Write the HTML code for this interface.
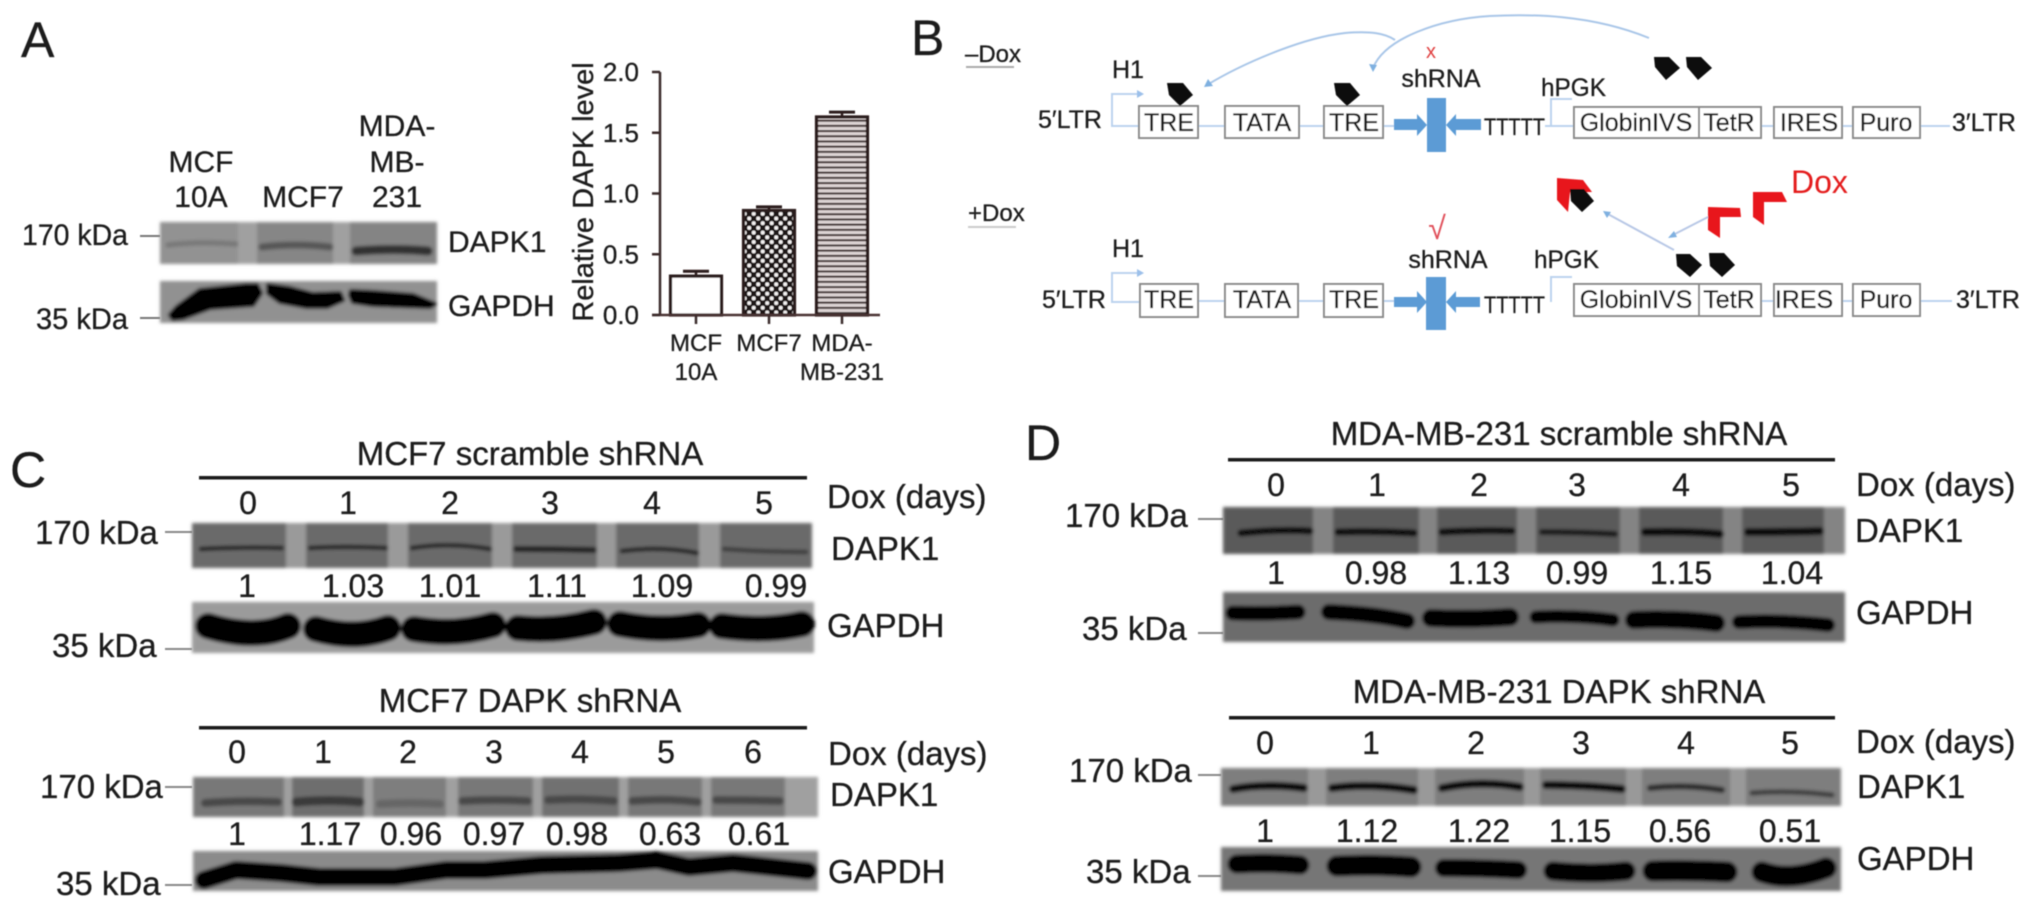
<!DOCTYPE html>
<html lang="en">
<head>
<meta charset="utf-8">
<title>DAPK1 expression and inducible knockdown figure</title>
<style>
html,body{margin:0;padding:0;background:#fff;width:2033px;height:913px;overflow:hidden}
svg{display:block}
text{font-family:"Liberation Sans",sans-serif;fill:#1c1c1c;stroke:#1c1c1c;stroke-width:.3}
.p{font-size:50px}
.l{font-size:33px}
.n{font-size:32px}
.b{font-size:25px}
.lane{stroke-linecap:round;stroke-linejoin:round;fill:none}
</style>
</head>
<body>
<svg id="figure" xmlns="http://www.w3.org/2000/svg" width="2033" height="913" viewBox="0 0 2033 913">
<defs>
<filter id="blur" filterUnits="userSpaceOnUse" x="0" y="0" width="2033" height="913"><feGaussianBlur stdDeviation="1.5"/></filter>
<filter id="soft" filterUnits="userSpaceOnUse" x="0" y="0" width="2033" height="913"><feGaussianBlur stdDeviation="0.5"/></filter>
<pattern id="checker" width="9" height="9.4" patternUnits="userSpaceOnUse">
<rect width="9" height="9.4" fill="#1e1414"/>
<circle cx="2.2" cy="2.3" r="2" fill="#f2f0f0"/>
<circle cx="6.7" cy="7" r="2" fill="#f2f0f0"/>
</pattern>
<pattern id="stripes" width="9" height="5.2" patternUnits="userSpaceOnUse">
<rect width="9" height="5.2" fill="#ddd4d4"/>
<rect y="0" width="9" height="2.1" fill="#4a3c3c"/>
</pattern>
</defs>

<g filter="url(#soft)">

<!-- Panel A -->
<g>
<text class="p" x="21" y="57">A</text>
<g font-size="30" text-anchor="middle">
<text x="201" y="172" font-size="30">MCF</text>
<text x="201" y="207" font-size="30">10A</text>
<text x="303" y="207" font-size="30">MCF7</text>
<text x="397" y="136" font-size="30">MDA-</text>
<text x="397" y="172" font-size="30">MB-</text>
<text x="397" y="207" font-size="30">231</text>
</g>
<text x="22" y="245" font-size="30" textLength="106" lengthAdjust="spacingAndGlyphs">170 kDa</text>
<line x1="140" y1="236" x2="160" y2="236" stroke="#777" stroke-width="2"/>
<text x="36" y="329" font-size="30" textLength="92" lengthAdjust="spacingAndGlyphs">35 kDa</text>
<line x1="140" y1="318" x2="160" y2="318" stroke="#777" stroke-width="2"/>
<text x="448" y="252" font-size="30">DAPK1</text>
<text x="448" y="316" font-size="30">GAPDH</text>
<g filter="url(#blur)">
<rect x="160" y="222" width="277" height="42" fill="#a0a0a0"/>
<rect x="160" y="222" width="78" height="42" fill="#929292"/>
<rect x="257" y="222" width="76" height="42" fill="#868686"/>
<rect x="350" y="222" width="87" height="42" fill="#848484"/>
<path class="lane" d="M168 245 Q200 241 236 244" stroke="#777" stroke-width="5"/>
<path class="lane" d="M262 247 Q295 243 330 247" stroke="#565656" stroke-width="7"/>
<path class="lane" d="M356 251 Q395 248 428 251" stroke="#303030" stroke-width="9"/>
</g>
<g filter="url(#blur)">
<rect x="160" y="281" width="277" height="42" fill="#919191"/>
<g stroke="#050505" stroke-width="4" stroke-linejoin="round" fill="#050505">
<polygon points="170,315 177,307 200,290 247,285 257,285 261,293 253,305 210,308 183,318 173,319"/>
<polygon points="268,285 290,288 313,294 340,293 343,300 327,307 307,307 280,302 268,293"/>
<polygon points="351,291 373,292 413,295 435,304 430,307 373,305 353,302 350,295"/>
</g>
</g>
<text transform="translate(593 192) rotate(-90)" text-anchor="middle" font-size="29">Relative DAPK level</text>
<g id="bar-chart"></g>
</g>

<!-- Panel B -->
<g>
<text class="p" x="911" y="55">B</text>
<text x="965" y="62" font-size="24">–Dox</text>
<line x1="966" y1="67" x2="1014" y2="67" stroke="#aaa" stroke-width="2"/>
<text x="968" y="221" font-size="24">+Dox</text>
<line x1="968" y1="227" x2="1016" y2="227" stroke="#ccc" stroke-width="2"/>

<g fill="none" stroke="#a9c6e8" stroke-width="2">
<path d="M1649 38 C1590 14 1530 14 1490 16 C1440 19 1385 38 1373 68"/>
<path d="M1395 40 C1385 33 1370 31 1345 33 C1300 38 1240 65 1207 85"/>
</g>
<polygon points="1373,72 1369,64 1377,65" fill="#7fb0e0"/>
<polygon points="1204,87 1208,79 1213,86" fill="#7fb0e0"/>

<!-- upper construct -->
<g>
<text x="1038" y="128" class="b">5′LTR</text>
<text x="1112" y="78" class="b">H1</text>
<path d="M1141 94 H1112 V126 H1139 M1198 126 H1225 M1299 126 H1324 M1383 126 H1394 M1545 126 H1574 M1551 126 V99 H1572 M1761 126 H1774 M1842 126 H1853 M1920 126 H1950" fill="none" stroke="#bcd3ee" stroke-width="2"/>
<polygon points="1144,94 1137,90 1137,98" fill="#9cc0ea"/>
<g fill="#fff" stroke="#8a8a8a" stroke-width="2">
<rect x="1139" y="106" width="59" height="32"/>
<rect x="1225" y="106" width="74" height="32"/>
<rect x="1324" y="106" width="59" height="32"/>
<rect x="1574" y="107" width="125" height="31"/>
<rect x="1699" y="107" width="62" height="31"/>
<rect x="1774" y="107" width="68" height="31"/>
<rect x="1853" y="107" width="67" height="31"/>
</g>
<g text-anchor="middle">
<text x="1169" y="131" class="b">TRE</text>
<text x="1262" y="131" class="b">TATA</text>
<text x="1354" y="131" class="b">TRE</text>
<text x="1636" y="131" class="b">GlobinIVS</text>
<text x="1729" y="131" class="b">TetR</text>
<text x="1809" y="131" class="b">IRES</text>
<text x="1886" y="131" class="b">Puro</text>
</g>
<text x="1441" y="87" class="b" text-anchor="middle">shRNA</text>
<text x="1431" y="58" font-size="20" style="fill:#e04040;stroke:none" text-anchor="middle">x</text>
<rect x="1427" y="98" width="19" height="54" fill="#5b9bd5"/>
<polygon points="1394,119 1417,119 1417,114 1427,125 1417,136 1417,130 1394,130" fill="#5b9bd5"/>
<polygon points="1481,119 1456,119 1456,114 1446,125 1456,136 1456,130 1481,130" fill="#5b9bd5"/>
<text x="1484" y="135" font-size="24" textLength="61" lengthAdjust="spacingAndGlyphs">TTTTT</text>
<text x="1541" y="96" class="b" textLength="65" lengthAdjust="spacingAndGlyphs">hPGK</text>
<text x="1952" y="131" class="b">3′LTR</text>
</g>
<polygon points="1167,83 1183,83 1193,95 1180,106 1169,95" fill="#0a0a0a"/>
<polygon points="1334,83 1350,83 1360,95 1347,106 1336,95" fill="#0a0a0a"/>
<polygon points="1654,57 1669,57 1680,68 1666,80 1655,67" fill="#0a0a0a"/>
<polygon points="1686,57 1701,57 1712,68 1698,80 1687,67" fill="#0a0a0a"/>

<!-- lower construct -->
<g>
<text x="1042" y="308" class="b">5′LTR</text>
<text x="1112" y="257" class="b">H1</text>
<path d="M1141 273 H1112 V302 H1140 M1198 301 H1225 M1298 301 H1324 M1383 301 H1394 M1551 302 V277 H1572 M1761 301 H1774 M1842 301 H1853 M1920 301 H1952" fill="none" stroke="#bcd3ee" stroke-width="2"/>
<polygon points="1144,273 1137,269 1137,277" fill="#9cc0ea"/>
<g fill="#fff" stroke="#8a8a8a" stroke-width="2">
<rect x="1140" y="284" width="58" height="33"/>
<rect x="1225" y="284" width="73" height="33"/>
<rect x="1324" y="284" width="59" height="33"/>
<rect x="1574" y="284" width="125" height="32"/>
<rect x="1699" y="284" width="62" height="32"/>
<rect x="1774" y="284" width="68" height="32"/>
<rect x="1853" y="284" width="67" height="32"/>
</g>
<g text-anchor="middle">
<text x="1169" y="308" class="b">TRE</text>
<text x="1262" y="308" class="b">TATA</text>
<text x="1354" y="308" class="b">TRE</text>
<text x="1636" y="308" class="b">GlobinIVS</text>
<text x="1729" y="308" class="b">TetR</text>
<text x="1804" y="308" class="b">IRES</text>
<text x="1886" y="308" class="b">Puro</text>
</g>
<text x="1448" y="268" class="b" text-anchor="middle">shRNA</text>
<text x="1437" y="239" font-size="32" style="fill:#e0505a;stroke:none" text-anchor="middle">√</text>
<rect x="1426" y="277" width="20" height="53" fill="#5b9bd5"/>
<polygon points="1394,297 1417,297 1417,291 1427,302 1417,313 1417,307 1394,307" fill="#5b9bd5"/>
<polygon points="1480,297 1456,297 1456,291 1446,302 1456,313 1456,307 1480,307" fill="#5b9bd5"/>
<text x="1484" y="313" font-size="24" textLength="61" lengthAdjust="spacingAndGlyphs">TTTTT</text>
<text x="1534" y="268" class="b" textLength="65" lengthAdjust="spacingAndGlyphs">hPGK</text>
<text x="1956" y="308" class="b">3′LTR</text>
</g>
<line x1="1674" y1="250" x2="1606" y2="213" stroke="#b8c8e6" stroke-width="2"/>
<polygon points="1603,211 1611,212 1607,218" fill="#7fb0e0"/>
<line x1="1708" y1="217" x2="1671" y2="236" stroke="#b8c8e6" stroke-width="2"/>
<polygon points="1668,238 1674,231 1677,237" fill="#7fb0e0"/>
<polygon points="1557,178 1583,180 1592,192 1570,192 1568,212 1557,200" fill="#e8191c"/>
<polygon points="1570,189 1584,189 1594,201 1582,212 1571,201" fill="#0a0a0a"/>
<polygon points="1708,207 1740,208 1741,217 1720,217 1720,238 1708,230" fill="#e8191c"/>
<polygon points="1753,192 1782,192 1787,202 1764,202 1764,225 1753,217" fill="#e8191c"/>
<text x="1791" y="193" font-size="32" style="fill:#e41a1c;stroke:none">Dox</text>
<polygon points="1676,254 1690,254 1702,265 1690,277 1677,266" fill="#0a0a0a"/>
<polygon points="1709,253 1724,253 1735,265 1722,277 1710,266" fill="#0a0a0a"/>
</g>

<!-- Panel C top -->
<g>
<text class="p" x="10" y="487">C</text>
<text x="530" y="465" class="l" text-anchor="middle">MCF7 scramble shRNA</text>
<rect x="199" y="476" width="608" height="3.5" fill="#1a1a1a"/>
<g text-anchor="middle">
<text x="248" y="514" class="n">0</text>
<text x="348" y="514" class="n">1</text>
<text x="450" y="514" class="n">2</text>
<text x="550" y="514" class="n">3</text>
<text x="652" y="514" class="n">4</text>
<text x="764" y="514" class="n">5</text>
</g>
<text x="827" y="508" class="l">Dox (days)</text>
<text x="35" y="544" class="l">170 kDa</text>
<line x1="165" y1="532" x2="192" y2="532" stroke="#888" stroke-width="2"/>
<text x="52" y="657" class="l">35 kDa</text>
<line x1="165" y1="649" x2="192" y2="649" stroke="#888" stroke-width="2"/>
<text x="831" y="560" class="l">DAPK1</text>
<text x="827" y="637" class="l">GAPDH</text>
<g filter="url(#blur)">
<rect x="192" y="523" width="620" height="45" fill="#9a9a9a"/>
<g fill="#6a6a6a">
<rect x="192" y="523" width="94" height="45"/>
<rect x="306" y="523" width="82" height="45"/>
<rect x="408" y="523" width="84" height="45"/>
<rect x="512" y="523" width="85" height="45"/>
<rect x="616" y="523" width="83" height="45"/>
<rect x="720" y="523" width="92" height="45"/>
</g>
<g class="lane" stroke="#222" stroke-width="4.5">
<path d="M201 549 Q240 547 282 548"/>
<path d="M310 548 Q345 546 386 548"/>
<path d="M412 548 Q450 542 490 549"/>
<path d="M516 549 Q555 549 594 550" stroke-width="6"/>
<path d="M622 551 Q660 546 697 553"/>
<path d="M724 549 Q765 552 806 552" stroke="#3c3c3c"/>
</g>
</g>
<g text-anchor="middle">
<text x="247" y="597" class="n">1</text>
<text x="353" y="597" class="n">1.03</text>
<text x="450" y="597" class="n">1.01</text>
<text x="557" y="597" class="n">1.11</text>
<text x="662" y="597" class="n">1.09</text>
<text x="776" y="597" class="n">0.99</text>
</g>
<g filter="url(#blur)">
<rect x="192" y="602" width="622" height="51" fill="#9b9b9b"/>
<g class="lane" stroke="#050505" stroke-width="26">
<path d="M208 626 Q255 640 288 626"/>
<path d="M316 629 Q355 640 388 628"/>
<path d="M414 629 Q455 636 493 625"/>
<path d="M518 628 Q555 632 594 622"/>
<path d="M620 624 Q660 632 698 625"/>
<path d="M722 626 Q765 632 802 624"/>
</g>
</g>

<!-- Panel C bottom -->
<text x="530" y="712" class="l" text-anchor="middle">MCF7 DAPK shRNA</text>
<rect x="199" y="726" width="608" height="3.5" fill="#1a1a1a"/>
<g text-anchor="middle">
<text x="237" y="763" class="n">0</text>
<text x="323" y="763" class="n">1</text>
<text x="408" y="763" class="n">2</text>
<text x="494" y="763" class="n">3</text>
<text x="580" y="763" class="n">4</text>
<text x="666" y="763" class="n">5</text>
<text x="753" y="763" class="n">6</text>
</g>
<text x="828" y="765" class="l">Dox (days)</text>
<text x="40" y="798" class="l">170 kDa</text>
<line x1="165" y1="787" x2="192" y2="787" stroke="#888" stroke-width="2"/>
<text x="56" y="895" class="l">35 kDa</text>
<line x1="165" y1="885" x2="192" y2="885" stroke="#888" stroke-width="2"/>
<text x="830" y="806" class="l">DAPK1</text>
<text x="828" y="883" class="l">GAPDH</text>
<g filter="url(#blur)">
<rect x="193" y="777" width="625" height="40" fill="#a0a0a0"/>
<g fill="#787878">
<rect x="193" y="777" width="91" height="40"/>
<rect x="292" y="777" width="72" height="40" fill="#6e6e6e"/>
<rect x="373" y="777" width="73" height="40" fill="#7e7e7e"/>
<rect x="458" y="777" width="75" height="40"/>
<rect x="542" y="777" width="77" height="40" fill="#717171"/>
<rect x="628" y="777" width="74" height="40"/>
<rect x="711" y="777" width="74" height="40"/>
</g>
<g class="lane" stroke="#4a4a4a" stroke-width="8">
<path d="M205 803 Q240 800 278 802"/>
<path d="M296 802 Q330 799 360 802" stroke="#3a3a3a" stroke-width="9"/>
<path d="M380 804 Q410 802 440 804" stroke="#666"/>
<path d="M462 801 Q495 799 528 801"/>
<path d="M548 800 Q580 798 614 801"/>
<path d="M632 801 Q665 798 698 802"/>
<path d="M716 800 Q748 800 780 801"/>
</g>
</g>
<g text-anchor="middle">
<text x="237" y="845" class="n">1</text>
<text x="330" y="845" class="n">1.17</text>
<text x="411" y="845" class="n">0.96</text>
<text x="494" y="845" class="n">0.97</text>
<text x="577" y="845" class="n">0.98</text>
<text x="670" y="845" class="n">0.63</text>
<text x="759" y="845" class="n">0.61</text>
</g>
<g filter="url(#blur)">
<rect x="193" y="851" width="625" height="40" fill="#8b8b8b"/>
<path class="lane" d="M204 880 L236 870 L281 873 L319 877 L395 877 L446 870 L485 870 L542 865 L619 863 L657 860 L689 867 L733 863 L808 871" stroke="#060606" stroke-width="18"/>
</g>
</g>

<!-- Panel D -->
<g>
<text class="p" x="1025" y="460">D</text>
<text x="1559" y="445" class="l" text-anchor="middle">MDA-MB-231 scramble shRNA</text>
<rect x="1228" y="458" width="607" height="3.5" fill="#1a1a1a"/>
<g text-anchor="middle">
<text x="1276" y="496" class="n">0</text>
<text x="1377" y="496" class="n">1</text>
<text x="1479" y="496" class="n">2</text>
<text x="1577" y="496" class="n">3</text>
<text x="1681" y="496" class="n">4</text>
<text x="1791" y="496" class="n">5</text>
</g>
<text x="1856" y="496" class="l">Dox (days)</text>
<text x="1065" y="527" class="l">170 kDa</text>
<line x1="1198" y1="519" x2="1223" y2="519" stroke="#888" stroke-width="2"/>
<text x="1082" y="640" class="l">35 kDa</text>
<line x1="1198" y1="633" x2="1223" y2="633" stroke="#888" stroke-width="2"/>
<text x="1855" y="542" class="l">DAPK1</text>
<text x="1856" y="624" class="l">GAPDH</text>
<g filter="url(#blur)">
<rect x="1223" y="507" width="622" height="47" fill="#848484"/>
<g fill="#5a5a5a">
<rect x="1223" y="507" width="90" height="47"/>
<rect x="1333" y="507" width="86" height="47"/>
<rect x="1437" y="507" width="80" height="47"/>
<rect x="1536" y="507" width="84" height="47"/>
<rect x="1639" y="507" width="84" height="47"/>
<rect x="1742" y="507" width="82" height="47"/>
</g>
<g class="lane" stroke="#0c0c0c" stroke-width="7">
<path d="M1241 533 Q1280 529 1310 531"/>
<path d="M1338 532 Q1375 531 1414 533"/>
<path d="M1442 532 Q1480 530 1512 531"/>
<path d="M1542 532 Q1580 532 1615 534" stroke="#1c1c1c" stroke-width="6"/>
<path d="M1645 532 Q1690 531 1720 534" stroke-width="8"/>
<path d="M1748 532 Q1790 532 1820 531" stroke-width="8"/>
</g>
</g>
<g text-anchor="middle">
<text x="1276" y="584" class="n">1</text>
<text x="1376" y="584" class="n">0.98</text>
<text x="1479" y="584" class="n">1.13</text>
<text x="1577" y="584" class="n">0.99</text>
<text x="1681" y="584" class="n">1.15</text>
<text x="1792" y="584" class="n">1.04</text>
</g>
<g filter="url(#blur)">
<rect x="1223" y="592" width="622" height="50" fill="#6c6c6c"/>
<g class="lane" stroke="#050505" stroke-width="15">
<path d="M1233 613 Q1265 614 1298 612"/>
<path d="M1329 612 Q1375 614 1407 621" stroke-width="16"/>
<path d="M1431 618 Q1470 620 1510 617" stroke-width="18"/>
<path d="M1536 617 Q1575 615 1613 620" stroke-width="13"/>
<path d="M1634 620 Q1675 618 1716 623" stroke-width="18"/>
<path d="M1739 622 Q1785 620 1828 625" stroke-width="14"/>
</g>
</g>

<text x="1559" y="703" class="l" text-anchor="middle">MDA-MB-231 DAPK shRNA</text>
<rect x="1229" y="716" width="606" height="3.5" fill="#1a1a1a"/>
<g text-anchor="middle">
<text x="1265" y="754" class="n">0</text>
<text x="1371" y="754" class="n">1</text>
<text x="1476" y="754" class="n">2</text>
<text x="1581" y="754" class="n">3</text>
<text x="1686" y="754" class="n">4</text>
<text x="1790" y="754" class="n">5</text>
</g>
<text x="1856" y="753" class="l">Dox (days)</text>
<text x="1069" y="782" class="l">170 kDa</text>
<line x1="1198" y1="775" x2="1221" y2="775" stroke="#888" stroke-width="2"/>
<text x="1086" y="883" class="l">35 kDa</text>
<line x1="1198" y1="876" x2="1221" y2="876" stroke="#888" stroke-width="2"/>
<text x="1857" y="798" class="l">DAPK1</text>
<text x="1857" y="870" class="l">GAPDH</text>
<g filter="url(#blur)">
<rect x="1221" y="768" width="620" height="38" fill="#999"/>
<g fill="#7e7e7e">
<rect x="1221" y="768" width="87" height="38"/>
<rect x="1326" y="768" width="92" height="38"/>
<rect x="1435" y="768" width="89" height="38"/>
<rect x="1540" y="768" width="86" height="38"/>
<rect x="1642" y="768" width="88" height="38"/>
<rect x="1746" y="768" width="95" height="38"/>
</g>
<g class="lane" stroke="#0c0c0c" stroke-width="8">
<path d="M1233 789 Q1265 783 1304 788"/>
<path d="M1332 788 Q1370 783 1414 790"/>
<path d="M1442 788 Q1480 780 1520 787"/>
<path d="M1546 785 Q1585 785 1622 789"/>
<path d="M1650 788 Q1685 784 1722 790" stroke="#2c2c2c" stroke-width="6"/>
<path d="M1752 793 Q1790 790 1832 795" stroke="#3c3c3c" stroke-width="5"/>
</g>
</g>
<g text-anchor="middle">
<text x="1265" y="842" class="n">1</text>
<text x="1367" y="842" class="n">1.12</text>
<text x="1479" y="842" class="n">1.22</text>
<text x="1580" y="842" class="n">1.15</text>
<text x="1680" y="842" class="n">0.56</text>
<text x="1790" y="842" class="n">0.51</text>
</g>
<g filter="url(#blur)">
<rect x="1221" y="847" width="620" height="44" fill="#767676"/>
<g class="lane" stroke="#060606" stroke-width="19">
<path d="M1237 864 Q1268 862 1300 865"/>
<path d="M1337 866 Q1375 864 1411 867" stroke-width="21"/>
<path d="M1444 868 Q1480 868 1518 870" stroke-width="18"/>
<path d="M1553 871 Q1590 875 1626 871"/>
<path d="M1653 871 Q1690 870 1727 872" stroke-width="21"/>
<path d="M1762 872 Q1790 882 1826 868" stroke-width="21"/>
</g>
</g>
</g>
</g>

<script>
const categories = ['MCF10A', 'MCF7', 'MDA-MB-231'];
const categoryLabelLines = [['MCF', '10A'], ['MCF7'], ['MDA-', 'MB-231']];
const relativeLevels = [0.32, 0.86, 1.63];
const errorBars = [0.04, 0.03, 0.04];
const yTickValues = [0, 0.5, 1, 1.5, 2];
const yTickLabels = ['0.0', '0.5', '1.0', '1.5', '2.0'];

const SVG_NS = 'http://www.w3.org/2000/svg';
const chart = document.getElementById('bar-chart');
const yScale = function (v) { return 315 - v * 121.5; };
const xScale = function (i) { return 696 + i * 73; };
const BAR_W = 51;
const AXIS_COLOR = '#3a2a2a';

function make(tag, attrs) {
  const el = document.createElementNS(SVG_NS, tag);
  Object.keys(attrs).forEach(function (k) { el.setAttribute(k, attrs[k]); });
  chart.appendChild(el);
  return el;
}

function drawAxes() {
  const yAxis = make('line', { x1: 660, x2: 660, y1: yScale(2), y2: yScale(0), stroke: AXIS_COLOR, 'stroke-width': 2.5 });
  
  
  const xAxis = make('line', { x1: 652, x2: 880, y1: yScale(0), y2: yScale(0), stroke: '#4a3030', 'stroke-width': 2.5 });
  
  
  yTickValues.forEach(function (v, i) {
    const tick = make('line', { x1: 652, x2: 660, y1: yScale(v), y2: yScale(v), stroke: AXIS_COLOR, 'stroke-width': 2.5 });
    
    
    const label = make('text', { x: 639, y: yScale(v) + 9, 'text-anchor': 'end', 'font-size': 26 });
    
    
    label.textContent = yTickLabels[i];
  });
  categories.forEach(function (c, i) {
    const tick = make('line', { x1: xScale(i), x2: xScale(i), y1: yScale(0), y2: yScale(0) + 9, stroke: AXIS_COLOR, 'stroke-width': 2.5 });
    
    
    categoryLabelLines[i].forEach(function (line, j) {
      const label = make('text', { x: xScale(i), y: 351 + j * 29, 'text-anchor': 'middle', 'font-size': 24 });
      
      
      label.textContent = line;
    });
  });
}

function drawBars() {
  const fills = ['#ffffff', 'url(#checker)', 'url(#stripes)'];
  relativeLevels.forEach(function (v, i) {
    const top = yScale(v);
    const errTop = yScale(v + errorBars[i]);
    const stem = make('line', { x1: xScale(i), x2: xScale(i), y1: top, y2: errTop, stroke: '#2a1a1a', 'stroke-width': 2.5 });
    
    
    const cap = make('line', { x1: xScale(i) - 13, x2: xScale(i) + 13, y1: errTop, y2: errTop, stroke: '#2a1a1a', 'stroke-width': 3 });
    
    
    const bar = make('rect', { x: xScale(i) - BAR_W / 2, y: top, width: BAR_W, height: yScale(0) - top, fill: fills[i], stroke: '#2a1a1a', 'stroke-width': 3.2 });
    
    
  });
}

drawBars();
drawAxes();
</script>
</svg>
</body>
</html>
